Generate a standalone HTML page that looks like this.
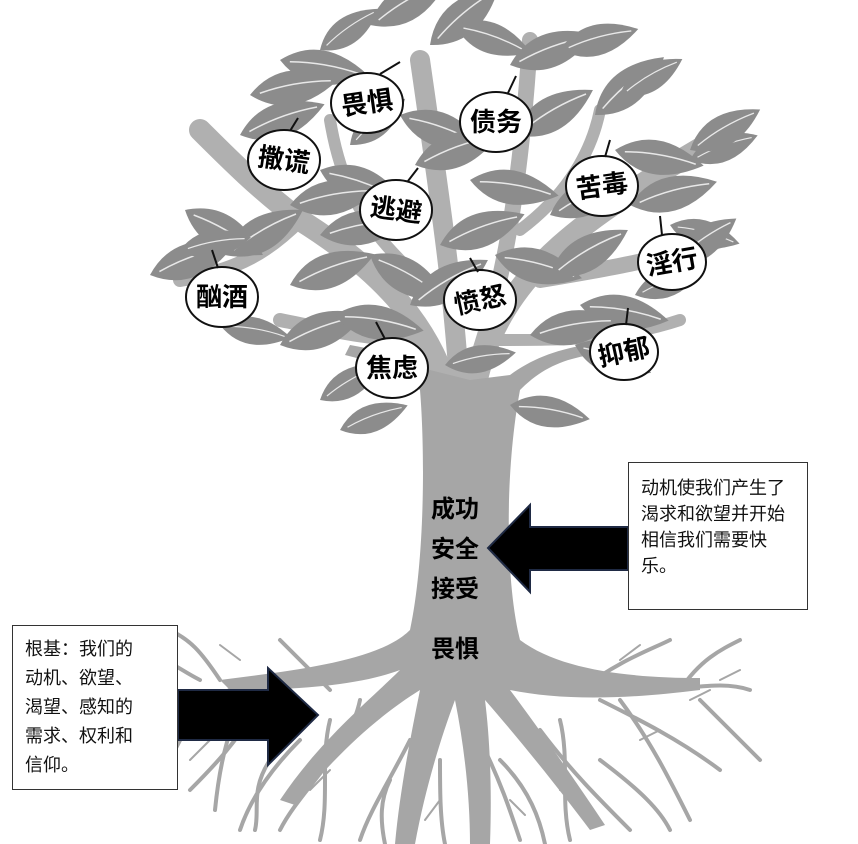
<!DOCTYPE html>
<html><head><meta charset="utf-8"><style>
body{margin:0;background:#fff;width:858px;height:844px;overflow:hidden;font-family:"Liberation Sans","Noto Sans CJK SC",sans-serif}
svg{position:absolute;left:0;top:0}
.box{position:absolute;background:#fff;border:1px solid #333;font-size:18px;color:#111;padding:8px 12px;box-sizing:border-box;white-space:nowrap}
</style></head><body>
<svg width="858" height="844" viewBox="0 0 858 844">
<defs>
<g id="lf"><path d="M0,0 Q38,-34 90,0 Q38,34 0,0Z" fill="#8c8c8c"/><path d="M10,0 Q45,-6 82,0" stroke="#fff" stroke-width="1.5" fill="none" opacity=".8"/></g>
</defs>
<g stroke="#b0b0b0" fill="none" stroke-linecap="round">
<path d="M455,420 C440,330 380,270 300,220 C260,190 230,160 200,130" stroke-width="22"/>
<path d="M470,420 C480,320 530,260 620,200 C660,170 700,150 730,130" stroke-width="22"/>
<path d="M460,400 C455,300 440,200 420,60" stroke-width="20"/>
<path d="M470,380 C500,300 520,200 530,40" stroke-width="16"/>
<path d="M300,220 C270,250 240,270 180,280" stroke-width="14"/>
<path d="M540,280 C600,270 660,260 720,240" stroke-width="16"/>
<path d="M500,340 C560,340 620,340 680,320" stroke-width="12"/>
<path d="M420,340 C370,340 330,330 280,320" stroke-width="14"/>
<path d="M400,260 C360,220 340,180 330,120" stroke-width="12"/>
<path d="M520,230 C560,200 590,160 600,110" stroke-width="12"/>
</g>
<path d="M420,390 C425,450 425,560 410,630 C380,660 300,670 220,680 L230,690 C300,690 360,685 400,670 C370,700 320,740 280,800 L295,805 C340,750 380,715 420,690 C410,740 400,790 395,844 L415,844 C425,790 440,740 455,700 C465,750 470,800 470,844 L490,844 C492,790 490,740 485,700 C520,740 560,790 590,830 L605,825 C575,780 540,730 510,690 C560,700 620,700 700,690 L700,678 C630,678 560,670 520,640 C505,580 505,470 520,390 C540,370 560,360 590,355 L585,345 C555,350 530,360 510,375 L470,380 L430,370 C410,360 380,350 350,345 L345,355 C375,362 400,375 420,390Z" fill="#a6a6a6"/>
<g stroke="#a6a6a6" fill="none" stroke-width="4" stroke-linecap="round">
<path d="M230,690 C200,700 190,720 170,760"/><path d="M250,690 C230,720 220,760 215,810"/>
<path d="M300,740 C270,770 250,800 240,830"/><path d="M330,720 C320,760 330,800 320,840"/>
<path d="M410,740 C390,780 370,810 360,840"/><path d="M440,760 C440,790 440,820 445,844"/>
<path d="M480,740 C500,780 510,810 520,840"/><path d="M540,730 C570,770 600,800 630,830"/>
<path d="M600,700 C640,720 680,740 720,770"/><path d="M650,690 C690,690 720,680 750,690"/>
<path d="M620,700 C650,740 670,780 690,820"/><path d="M560,720 C570,760 560,800 570,840"/>
<path d="M200,680 C180,670 170,660 150,655"/><path d="M680,690 C700,660 720,650 740,640"/>
<path d="M260,700 C240,740 210,770 190,790"/><path d="M360,700 C350,750 300,790 280,830"/>
<path d="M220,680 C200,650 190,640 170,630"/><path d="M330,690 C300,660 290,650 280,640"/>
<path d="M580,690 C620,660 650,650 670,640"/><path d="M700,700 C720,720 740,740 760,760"/>
<path d="M390,780 C380,800 380,820 385,844"/><path d="M500,760 C530,790 540,820 545,844"/>
<path d="M600,760 C640,790 660,810 670,830"/><path d="M270,760 C250,790 260,810 255,830"/>
</g>
<g stroke="#a6a6a6" fill="none" stroke-width="2" stroke-linecap="round">
<path d="M200,700 L180,720 M210,740 L190,760 M640,740 L660,730 M690,700 L710,690 M330,770 L310,790 M560,790 L580,800 M440,800 L425,820 M510,800 L525,815 M240,660 L220,645 M620,660 L640,645 M720,680 L740,670"/>
</g>
<g>
<use href="#lf" transform="translate(370,25) rotate(-30)"/><use href="#lf" transform="translate(430,45) rotate(-40)"/>
<use href="#lf" transform="translate(455,25) rotate(20) scale(.9)"/><use href="#lf" transform="translate(510,65) rotate(-20)"/>
<use href="#lf" transform="translate(560,50) rotate(-15) scale(.9)"/><use href="#lf" transform="translate(280,60) rotate(10)"/>
<use href="#lf" transform="translate(250,95) rotate(-10)"/><use href="#lf" transform="translate(320,50) rotate(-35) scale(.8)"/>
<use href="#lf" transform="translate(400,115) rotate(20)"/><use href="#lf" transform="translate(595,115) rotate(-40)"/>
<use href="#lf" transform="translate(615,150) rotate(10)"/><use href="#lf" transform="translate(690,160) rotate(-20) scale(.8)"/>
<use href="#lf" transform="translate(690,150) rotate(-30) scale(.9)"/><use href="#lf" transform="translate(630,205) rotate(-15)"/>
<use href="#lf" transform="translate(670,225) rotate(15) scale(.8)"/><use href="#lf" transform="translate(550,215) rotate(-25)"/>
<use href="#lf" transform="translate(470,180) rotate(10)"/><use href="#lf" transform="translate(415,165) rotate(-20)"/>
<use href="#lf" transform="translate(320,170) rotate(20)"/><use href="#lf" transform="translate(290,205) rotate(-10)"/>
<use href="#lf" transform="translate(185,210) rotate(30)"/><use href="#lf" transform="translate(150,275) rotate(-20)"/>
<use href="#lf" transform="translate(225,255) rotate(-30)"/><use href="#lf" transform="translate(320,235) rotate(-10)"/>
<use href="#lf" transform="translate(290,285) rotate(-20)"/><use href="#lf" transform="translate(370,255) rotate(30)"/>
<use href="#lf" transform="translate(440,245) rotate(-20)"/><use href="#lf" transform="translate(495,255) rotate(15)"/>
<use href="#lf" transform="translate(550,275) rotate(-30)"/><use href="#lf" transform="translate(580,305) rotate(10)"/>
<use href="#lf" transform="translate(635,295) rotate(-20) scale(.8)"/><use href="#lf" transform="translate(530,335) rotate(-10)"/>
<use href="#lf" transform="translate(575,345) rotate(20) scale(.9)"/><use href="#lf" transform="translate(280,345) rotate(-20)"/>
<use href="#lf" transform="translate(335,315) rotate(10)"/><use href="#lf" transform="translate(410,305) rotate(-30)"/>
<use href="#lf" transform="translate(320,400) rotate(-30) scale(.8)"/><use href="#lf" transform="translate(510,405) rotate(10) scale(.9)"/>
<use href="#lf" transform="translate(240,135) rotate(-20)"/><use href="#lf" transform="translate(350,145) rotate(-40) scale(.8)"/>
<use href="#lf" transform="translate(515,135) rotate(-30)"/><use href="#lf" transform="translate(445,365) rotate(-10) scale(.8)"/>
<use href="#lf" transform="translate(220,325) rotate(10) scale(.8)"/><use href="#lf" transform="translate(670,265) rotate(-35) scale(.9)"/>
<use href="#lf" transform="translate(340,430) rotate(-20) scale(.8)"/><use href="#lf" transform="translate(620,95) rotate(-30) scale(.8)"/>
<use href="#lf" transform="translate(180,250) rotate(-10) scale(.8)"/>
</g>
<g fill="#fff" stroke="#111" stroke-width="2">
<ellipse cx="367" cy="103" rx="36" ry="30"/><ellipse cx="496" cy="122" rx="36" ry="30"/>
<ellipse cx="284" cy="160" rx="36" ry="30"/><ellipse cx="602" cy="186" rx="36" ry="30"/>
<ellipse cx="396" cy="210" rx="36" ry="30"/><ellipse cx="672" cy="262" rx="34" ry="28"/>
<ellipse cx="222" cy="297" rx="36" ry="30"/><ellipse cx="480" cy="300" rx="36" ry="30"/>
<ellipse cx="392" cy="368" rx="36" ry="30"/><ellipse cx="624" cy="352" rx="34" ry="28"/>
</g>
<g stroke="#111" stroke-width="2">
<line x1="380" y1="74" x2="400" y2="62"/><line x1="508" y1="93" x2="516" y2="76"/>
<line x1="290" y1="131" x2="298" y2="118"/><line x1="605" y1="157" x2="610" y2="140"/>
<line x1="408" y1="181" x2="418" y2="168"/><line x1="662" y1="235" x2="660" y2="216"/>
<line x1="218" y1="268" x2="212" y2="250"/><line x1="478" y1="272" x2="470" y2="258"/>
<line x1="385" y1="339" x2="376" y2="322"/><line x1="626" y1="325" x2="628" y2="308"/>
</g>
<g font-size="26" font-weight="bold" text-anchor="middle" fill="#000" font-family="Liberation Sans,Noto Sans CJK SC,sans-serif">
<text x="367" y="112" transform="rotate(-8 367 103)">畏惧</text><text x="496" y="131">债务</text>
<text x="284" y="169" transform="rotate(8 284 160)">撒谎</text><text x="602" y="195" transform="rotate(-8 602 186)">苦毒</text>
<text x="396" y="219" transform="rotate(8 396 210)">逃避</text><text x="672" y="271" transform="rotate(-10 672 262)">淫行</text>
<text x="222" y="306">酗酒</text><text x="480" y="309" transform="rotate(-12 480 300)">愤怒</text>
<text x="392" y="377">焦虑</text><text x="624" y="361" transform="rotate(-12 624 352)">抑郁</text>
</g>
<g font-size="24" font-weight="bold" text-anchor="middle" fill="#000" font-family="Liberation Sans,Noto Sans CJK SC,sans-serif">
<text x="455" y="517">成功</text><text x="455" y="557">安全</text><text x="455" y="597">接受</text><text x="455" y="657">畏惧</text>
</g>
<path d="M628,527 L530,527 L530,505 L488,548 L530,592 L530,570 L628,570Z" fill="#000" stroke="#1f2a44" stroke-width="2"/>
<path d="M178,690 L268,690 L268,668 L318,715 L268,765 L268,740 L178,740Z" fill="#000" stroke="#1f2a44" stroke-width="2"/>
</svg>
<div class="box" style="left:628px;top:462px;width:180px;height:148px;line-height:26px;padding-top:12px">动机使我们产生了<br>渴求和欲望并开始<br>相信我们需要快<br>乐。</div>
<div class="box" style="left:12px;top:625px;width:166px;height:165px;line-height:29px;padding-top:9px">根基：我们的<br>动机、欲望、<br>渴望、感知的<br>需求、权利和<br>信仰。</div>
</body></html>
